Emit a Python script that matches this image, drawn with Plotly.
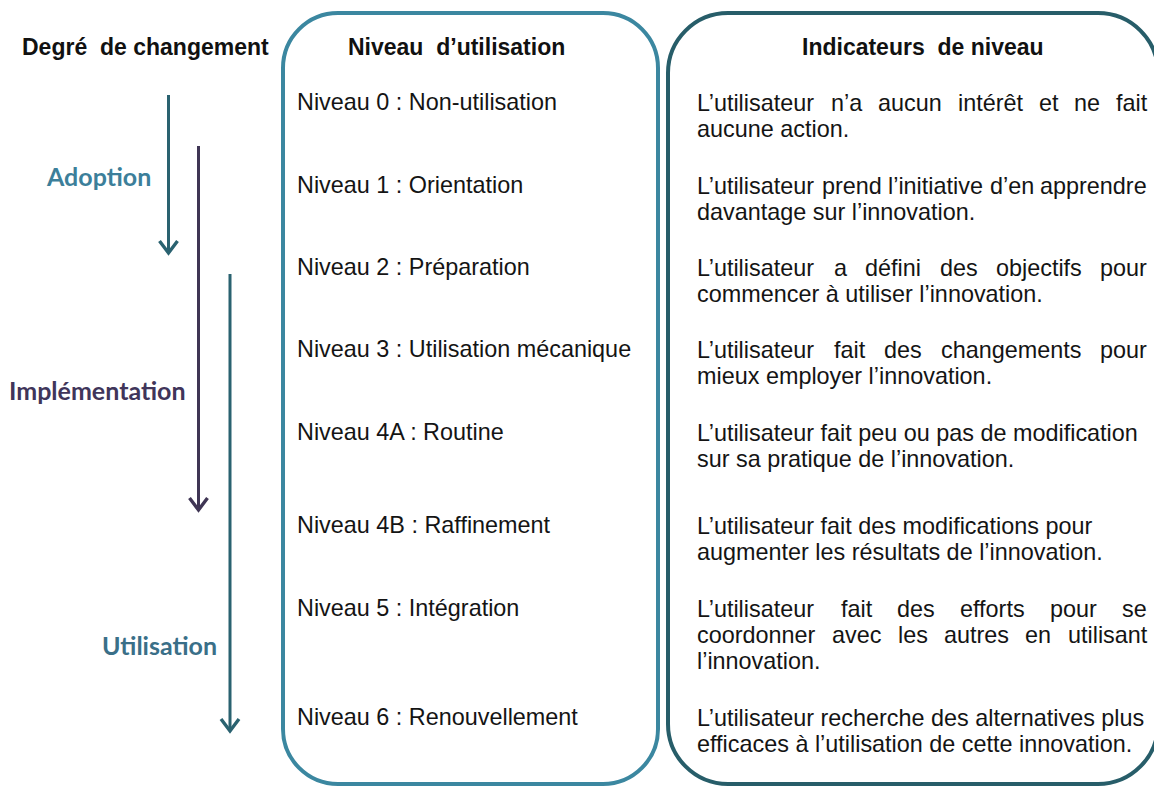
import plotly.graph_objects as go

# ---------------- data ----------------
stages = ["Adoption", "Implémentation", "Utilisation"]
column_titles = ["Degré\u00a0 de changement", "Niveau\u00a0 d’utilisation", "Indicateurs\u00a0 de niveau"]
levels = [
    "Niveau 0 : Non-utilisation",
    "Niveau 1 : Orientation",
    "Niveau 2 : Préparation",
    "Niveau 3 : Utilisation mécanique",
    "Niveau 4A : Routine",
    "Niveau 4B : Raffinement",
    "Niveau 5 : Intégration",
    "Niveau 6 : Renouvellement",
]
indicators = [
    ["L’utilisateur n’a aucun intérêt et ne fait", "aucune action."],
    ["L’utilisateur prend l’initiative d’en apprendre", "davantage sur l’innovation."],
    ["L’utilisateur a défini des objectifs pour", "commencer à utiliser l’innovation."],
    ["L’utilisateur fait des changements pour", "mieux employer l’innovation."],
    ["L’utilisateur fait peu ou pas de modification", "sur sa pratique de l’innovation."],
    ["L’utilisateur fait des modifications pour", "augmenter les résultats de l’innovation."],
    ["L’utilisateur fait des efforts pour se", "coordonner avec les autres en utilisant", "l’innovation."],
    ["L’utilisateur recherche des alternatives plus", "efficaces à l’utilisation de cette innovation."],
]
justify = [
    [True, False], [True, False], [True, False], [True, False],
    [False, False], [False, False], [True, True, False], [False, False],
]

# ---------------- layout / style ----------------
W, H = 1162, 787
PAGE_OFF = 8          # default body margin of the html page
row_y = [102, 185, 267, 349, 432, 525, 608, 717]
line_gap = 26
FS = 23.4
FONT = "Liberation Sans, Arial, sans-serif"
TXT = "#141414"
BOX1 = "#3b87a0"
BOX2 = "#275d69"
TEAL = "#2a6270"
PURPLE = "#3f3554"

# Arial / Liberation Sans advance widths (per 1000 em)
AW = {" ": 278, "’": 222, ".": 278, ":": 278, "-": 333, "L": 556,
      "a": 556, "b": 556, "c": 500, "d": 556, "e": 556, "f": 278, "g": 556, "h": 556,
      "i": 222, "j": 222, "k": 500, "l": 222, "m": 833, "n": 556, "o": 556, "p": 556,
      "q": 556, "r": 333, "s": 500, "t": 278, "u": 556, "v": 500, "w": 722, "x": 500,
      "y": 500, "z": 500, "é": 556, "ê": 556, "à": 556}


def text_w(s, size=FS):
    return sum(AW.get(ch, 556) for ch in s) * size / 1000.0


fig = go.Figure()
fig.add_trace(go.Scatter(x=[PAGE_OFF, W], y=[PAGE_OFF, H], mode="markers",
                         marker=dict(opacity=0), hoverinfo="skip", showlegend=False))


def rounded_rect(x0, y0, x1, y1, r):
    k = 0.5523 * r
    return (f"M {x0 + r},{y0} L {x1 - r},{y0} "
            f"C {x1 - r + k},{y0} {x1},{y0 + r - k} {x1},{y0 + r} "
            f"L {x1},{y1 - r} "
            f"C {x1},{y1 - r + k} {x1 - r + k},{y1} {x1 - r},{y1} "
            f"L {x0 + r},{y1} "
            f"C {x0 + r - k},{y1} {x0},{y1 - r + k} {x0},{y1 - r} "
            f"L {x0},{y0 + r} "
            f"C {x0},{y0 + r - k} {x0 + r - k},{y0} {x0 + r},{y0} Z")


shapes = [
    dict(type="path", path=rounded_rect(283, 13, 658, 784, 55),
         line=dict(color=BOX1, width=4), xref="x", yref="y"),
    dict(type="path", path=rounded_rect(668, 13, 1158, 784, 60),
         line=dict(color=BOX2, width=4), xref="x", yref="y"),
]

# arrows: (x, top, tip, colour)
arrows = [(168.5, 95, 253, TEAL), (198.5, 146, 510, PURPLE), (230, 274, 731, TEAL)]
for ax, top, tip, col in arrows:
    shapes.append(dict(type="line", x0=ax, x1=ax, y0=top, y1=tip - 1,
                       line=dict(color=col, width=3), xref="x", yref="y"))
    shapes.append(dict(type="path", path=f"M {ax - 9},{tip - 12} L {ax},{tip} L {ax + 9},{tip - 12}",
                       line=dict(color=col, width=3.4), xref="x", yref="y"))

ann = []
# column titles
for txt, cx in zip(column_titles, [145, 456, 923]):
    ann.append(dict(x=cx, y=47, text=f"<b>{txt}</b>", xanchor="center", yanchor="middle",
                    font=dict(family=FONT, size=23, color="#111111")))

# stage labels
for txt, cx, cy, col in zip(stages, [98, 97, 159], [176, 390, 645],
                            ["#3c7f9a", "#40355a", "#3a6f88"]):
    ann.append(dict(x=cx, y=cy, text=f"<b>{txt}</b>", xanchor="center", yanchor="middle",
                    font=dict(family="Lato, Open Sans, sans-serif", size=25, color=col)))

# levels column
for txt, y in zip(levels, row_y):
    ann.append(dict(x=297, y=y, text=txt, xanchor="left", yanchor="middle",
                    font=dict(family=FONT, size=FS, color=TXT)))

# indicators column (with justified lines)
X0, X1 = 697, 1147
for lines, flags, y0 in zip(indicators, justify, row_y):
    for i, (line, jf) in enumerate(zip(lines, flags)):
        y = y0 + 1 + i * line_gap
        if not jf:
            ann.append(dict(x=X0, y=y, text=line, xanchor="left", yanchor="middle",
                            font=dict(family=FONT, size=FS, color=TXT)))
            continue
        words = line.split(" ")
        widths = [text_w(w) for w in words]
        gap = (X1 - X0 - sum(widths)) / (len(words) - 1)
        x = X0
        for w, ww in zip(words, widths):
            ann.append(dict(x=x, y=y, text=w, xanchor="left", yanchor="middle",
                            font=dict(family=FONT, size=FS, color=TXT)))
            x += ww + gap

for a in ann:
    a.update(showarrow=False, xref="x", yref="y", borderpad=0, borderwidth=0)

fig.update_layout(
    width=W - PAGE_OFF, height=H - PAGE_OFF,
    margin=dict(l=0, r=0, t=0, b=0),
    paper_bgcolor="white", plot_bgcolor="white",
    xaxis=dict(range=[PAGE_OFF, W], visible=False, fixedrange=True),
    yaxis=dict(range=[H, PAGE_OFF], visible=False, fixedrange=True),
    shapes=shapes, annotations=ann, showlegend=False,
)

fig.write_html("out.html")
